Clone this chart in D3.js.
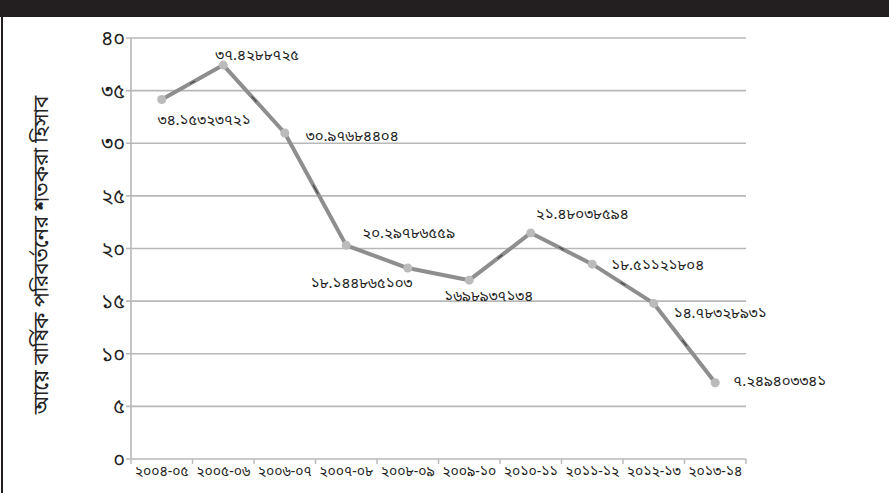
<!DOCTYPE html>
<html>
<head>
<meta charset="utf-8">
<script src="https://cdn.jsdelivr.net/npm/d3@7"></script>
<style>
  body { margin: 0; background: #fff; }
  text { font-family: "Noto Sans Bengali", "Lohit Bengali", "Noto Sans", sans-serif; fill: #222; }
</style>
</head>
<body>
<div class="canvas"></div>
<script>
const years = ['২০০৪-০৫', '২০০৫-০৬', '২০০৬-০৭', '২০০৭-০৮', '২০০৮-০৯',
  '২০০৯-১০', '২০১০-১১', '২০১১-১২', '২০১২-১৩', '২০১৩-১৪'];
const values = [34.15323721, 37.4288725, 30.97684404, 20.29786559, 18.1448651,
  16.98937134, 21.48038594, 18.51121804, 14.78328931, 7.249403341];
const valueLabels = ['৩৪.১৫৩২৩৭২১', '৩৭.৪২৮৮৭২৫', '৩০.৯৭৬৮৪৪০৪', '২০.২৯৭৮৬৫৫৯', '১৮.১৪৪৮৬৫১০৩',
  '১৬৯৮৯৩৭১৩৪', '২১.৪৮০৩৮৫৯৪', '১৮.৫১১২১৮০৪', '১৪.৭৮৩২৮৯৩১', '৭.২৪৯৪০৩৩৪১'];
const yTicks = [0, 5, 10, 15, 20, 25, 30, 35, 40];
const yTitle = 'আয়ে বার্ষিক পরিবর্তনের শতকরা হিসাব';

// where each value label sits relative to its point (dx, dy)
const labelOffsets = [[-4, 20], [-8, -10], [21, 3], [16, -13], [-97, 15],
  [-25, 16], [5, -19], [19, 1], [20, 9], [18, -2]];

const bn = s => String(s).replace(/[0-9]/g, d => '০১২৩৪৫৬৭৮৯'[d]);

const width = 889, height = 493;

const svg = d3.select('.canvas')
  .append('svg')
  .attr('width', width)
  .attr('height', height);

// black band on top and left frame
svg.append('rect').attr('x', 0).attr('y', 0).attr('width', width).attr('height', 17).attr('fill', '#231f20');
svg.append('rect').attr('x', 1).attr('y', 17).attr('width', 2).attr('height', height - 17).attr('fill', '#231f20');

const x = d3.scaleBand()
  .domain(years)
  .range([131, 746]);

const y = d3.scaleLinear()
  .domain([0, 40])
  .range([459, 38]);

// grid
svg.append('g')
  .selectAll('line')
  .data(yTicks)
  .join('line')
  .attr('x1', 126)
  .attr('x2', 746)
  .attr('y1', d => y(d))
  .attr('y2', d => y(d))
  .attr('stroke', '#b8b8b8')
  .attr('stroke-width', 1.6);

// y axis line
svg.append('line')
  .attr('x1', 131).attr('x2', 131)
  .attr('y1', y(40)).attr('y2', y(0))
  .attr('stroke', '#b8b8b8').attr('stroke-width', 1.6);

// x axis ticks
svg.append('g')
  .selectAll('line')
  .data(years.concat(['end']))
  .join('line')
  .attr('x1', (d, i) => 131 + i * x.step())
  .attr('x2', (d, i) => 131 + i * x.step())
  .attr('y1', y(0))
  .attr('y2', y(0) + 5)
  .attr('stroke', '#b8b8b8')
  .attr('stroke-width', 1.4);

// y tick labels
svg.append('g')
  .selectAll('text')
  .data(yTicks)
  .join('text')
  .attr('x', 125)
  .attr('y', d => y(d))
  .attr('dy', '0.35em')
  .attr('text-anchor', 'end')
  .attr('font-size', 20)
  .text(d => bn(d));

// x tick labels
svg.append('g')
  .selectAll('text')
  .data(years)
  .join('text')
  .attr('x', d => x(d) + x.bandwidth() / 2)
  .attr('y', 476)
  .attr('text-anchor', 'middle')
  .attr('font-size', 14)
  .text(d => d);

// y title
svg.append('text')
  .attr('transform', 'translate(48, 255) rotate(-90)')
  .attr('text-anchor', 'middle')
  .attr('font-size', 20.5)
  .text(yTitle);

const pts = years.map((d, i) => [x(d) + x.bandwidth() / 2, y(values[i])]);

svg.append('path')
  .attr('d', d3.line()(pts))
  .attr('fill', 'none')
  .attr('stroke', '#8e8e8e')
  .attr('stroke-width', 4)
  .attr('stroke-linejoin', 'round');

// small dark dashes along the segments
svg.append('g')
  .selectAll('line')
  .data(d3.pairs(pts).filter((p, i) => i !== 3 && i !== 4))
  .join('line')
  .attr('x1', d => d[0][0] + (d[1][0] - d[0][0]) * 0.46)
  .attr('y1', d => d[0][1] + (d[1][1] - d[0][1]) * 0.46)
  .attr('x2', d => d[0][0] + (d[1][0] - d[0][0]) * 0.54)
  .attr('y2', d => d[0][1] + (d[1][1] - d[0][1]) * 0.54)
  .attr('stroke', '#444')
  .attr('stroke-width', 1.2);

svg.append('g')
  .selectAll('circle')
  .data(pts)
  .join('circle')
  .attr('cx', d => d[0])
  .attr('cy', d => d[1])
  .attr('r', 4.5)
  .attr('fill', '#bbbbbb');

// value labels
svg.append('g')
  .selectAll('text')
  .data(pts)
  .join('text')
  .attr('x', (d, i) => d[0] + labelOffsets[i][0])
  .attr('y', (d, i) => d[1] + labelOffsets[i][1])
  .attr('dy', '0.35em')
  .attr('font-size', 15)
  .text((d, i) => valueLabels[i]);
</script>
</body>
</html>
